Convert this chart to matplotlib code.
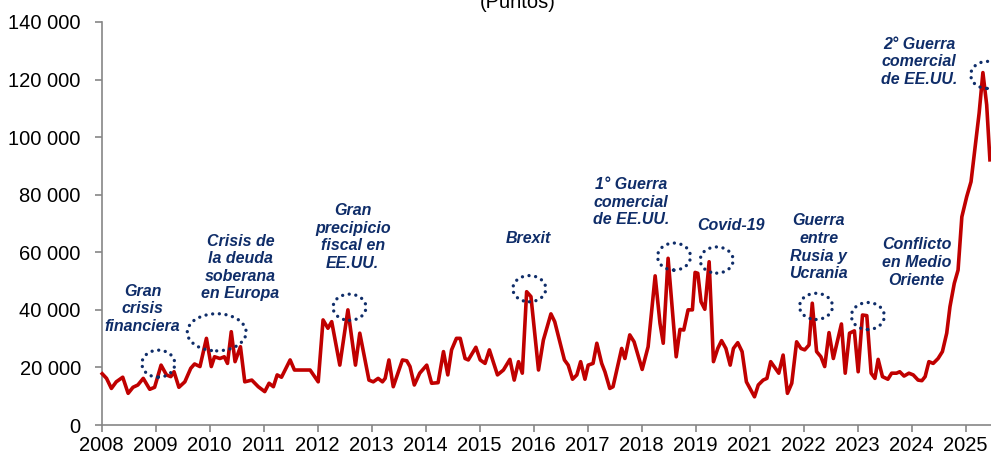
import matplotlib
matplotlib.use('Agg')
import matplotlib.pyplot as plt
from matplotlib.patches import Ellipse
from matplotlib.ticker import FuncFormatter

plt.rcParams['font.family'] = ['Liberation Sans', 'DejaVu Sans']

# -----------------------------------------------------------------------
# Datos (posición en el eje de años, índice en puntos)
# -----------------------------------------------------------------------
etiquetas_x = ['2008', '2009', '2010', '2011', '2012', '2013', '2014', '2015',
               '2016', '2017', '2018', '2019', '2021', '2022', '2023', '2024', '2025']

pos = [0.01, 0.09, 0.18, 0.27, 0.39, 0.49, 0.58, 0.67, 0.77, 0.89,
       0.98, 1.10, 1.20, 1.28, 1.34, 1.43, 1.54, 1.65, 1.72, 1.82,
       1.94, 2.03, 2.09, 2.19, 2.27, 2.33, 2.40, 2.47, 2.57, 2.65,
       2.78, 2.90, 3.02, 3.10, 3.18, 3.25, 3.33, 3.49, 3.57, 3.70,
       3.86, 4.01, 4.10, 4.19, 4.26, 4.41, 4.56, 4.70, 4.78, 4.95,
       5.03, 5.12, 5.20, 5.25, 5.32, 5.40, 5.57, 5.65, 5.71, 5.79,
       5.89, 6.02, 6.11, 6.23, 6.33, 6.41, 6.48, 6.57, 6.64, 6.73,
       6.79, 6.93, 7.01, 7.10, 7.18, 7.33, 7.44, 7.56, 7.64, 7.72,
       7.79, 7.87, 7.95, 8.09, 8.18, 8.32, 8.39, 8.57, 8.64, 8.72,
       8.80, 8.87, 8.95, 9.01, 9.10, 9.17, 9.26, 9.32, 9.41, 9.47,
       9.63, 9.69, 9.78, 9.86, 10.01, 10.12, 10.25, 10.34, 10.40, 10.49,
       10.64, 10.71, 10.78, 10.86, 10.94, 10.99, 11.04, 11.10, 11.17, 11.25,
       11.33, 11.41, 11.48, 11.56, 11.64, 11.70, 11.78, 11.86, 11.94, 12.09,
       12.16, 12.25, 12.32, 12.39, 12.54, 12.62, 12.70, 12.78, 12.87, 12.95,
       13.02, 13.10, 13.16, 13.24, 13.32, 13.39, 13.47, 13.55, 13.70, 13.77,
       13.85, 13.94, 14.01, 14.09, 14.17, 14.25, 14.32, 14.38, 14.46, 14.56,
       14.63, 14.72, 14.78, 14.86, 14.95, 15.03, 15.12, 15.19, 15.25, 15.32,
       15.40, 15.49, 15.57, 15.65, 15.71, 15.79, 15.86, 15.93, 16.02, 16.10,
       16.17, 16.25, 16.32, 16.39, 16.45]

valor = [17800, 16200, 12700, 15000, 16600, 11000, 13100, 13900, 16200, 12400,
         13100, 20800, 17400, 16800, 18500, 13100, 15000, 19700, 21200, 20300,
         30100, 20300, 23700, 23100, 23700, 21400, 32400, 22000, 27200, 15000,
         15600, 13300, 11600, 14500, 13300, 17400, 16600, 22600, 19100, 19100,
         19100, 15000, 36500, 33600, 35900, 20800, 40000, 20800, 31900, 15600,
         15000, 16200, 15000, 16200, 22600, 13300, 22600, 22300, 20300, 13900,
         18000, 20800, 14500, 14700, 25500, 17400, 26100, 30100, 30100, 23100,
         22600, 27000, 22600, 21400, 26100, 17400, 19100, 22800, 15600, 22000,
         18000, 46300, 44600, 19100, 29500, 38600, 35900, 22600, 20800, 15900,
         17400, 22000, 15900, 20800, 21400, 28400, 21400, 18500, 12700, 13300,
         26600, 23100, 31300, 28900, 19300, 27200, 51800, 35300, 28400, 57900,
         23700, 33200, 33000, 40000, 40000, 53000, 52700, 42800, 40200, 56700,
         22000, 26600, 29300, 26600, 20800, 26600, 28600, 25500, 15000, 9800,
         13900, 15600, 16200, 22000, 18000, 24300, 11000, 14500, 28900, 26600,
         26100, 27800, 42300, 25500, 23700, 20300, 32100, 23100, 35100, 18000,
         31900, 32700, 18500, 38200, 38000, 18000, 16200, 22800, 16800, 15900,
         18000, 18000, 18500, 17000, 18000, 17400, 15600, 15400, 16800, 22000,
         21400, 23100, 25500, 31900, 41100, 49200, 53800, 72300, 79300, 84500,
         95500, 108300, 122400, 111200, 92100]

# Eventos: texto y centro del bloque de texto (en unidades de datos)
eventos = [
    ("Gran\ncrisis\nfinanciera",                0.76, 40300),
    ("Crisis de\nla deuda\nsoberana\nen Europa", 2.57, 54700),
    ("Gran\nprecipicio\nfiscal en\nEE.UU.",     4.65, 65300),
    ("Brexit",                                   7.91, 64900),
    ("1° Guerra\ncomercial\nde EE.UU.",          9.80, 77400),
    ("Covid-19",                                 11.65, 69200),
    ("Guerra\nentre\nRusia y\nUcrania",          13.28, 61700),
    ("Conflicto\nen Medio\nOriente",             15.09, 56400),
    ("2° Guerra\ncomercial\nde EE.UU.",          15.14, 126100),
]

# Círculos punteados sobre cada pico (centro x, centro y, ancho, alto)
circulos = [
    (1.05, 21300, 0.61, 9400),
    (2.13, 32200, 1.09, 12900),
    (4.59, 40900, 0.61, 9100),
    (7.92, 47350, 0.61, 9100),
    (10.60, 58500, 0.61, 9400),
    (11.39, 57300, 0.61, 9100),
    (13.23, 41200, 0.61, 9100),
    (14.19, 37850, 0.61, 9400),
    (16.40, 121600, 0.61, 9400),
]

AZUL = '#0F2D69'
ROJO = '#C00000'
GRIS = '#868686'

fig = plt.figure(figsize=(9.91, 4.57), dpi=100)
ax = fig.add_axes([0.1026, 0.070, 0.8974, 0.882])

ax.plot(pos, valor, color=ROJO, lw=2.6, solid_joinstyle='round', clip_on=False, zorder=3)

for cx, cy, w, h in circulos:
    ax.add_patch(Ellipse((cx, cy), w, h, fill=False, edgecolor=AZUL, lw=2.4,
                         linestyle=(0, (0.01, 2.0)), capstyle='round', zorder=4))

for texto, tx, ty in eventos:
    ax.text(tx, ty, texto, ha='center', va='center', color=AZUL, fontsize=11.5,
            fontweight='bold', fontstyle='italic', linespacing=1.22, zorder=5)

ax.set_xlim(0, 16.47)
ax.set_ylim(0, 140000)
ax.set_xticks(range(len(etiquetas_x)))
ax.set_xticklabels(etiquetas_x)
ax.set_yticks(range(0, 140001, 20000))
ax.yaxis.set_major_formatter(FuncFormatter(lambda v, p: f"{v:,.0f}".replace(",", " ")))

for lado in ['top', 'right']:
    ax.spines[lado].set_visible(False)
for lado in ['left', 'bottom']:
    ax.spines[lado].set_color(GRIS)
    ax.spines[lado].set_linewidth(1.2)

ax.tick_params(axis='both', colors=GRIS, labelcolor='black', labelsize=14.5,
               length=5, width=1.2, direction='out')
ax.tick_params(axis='y', pad=10)
ax.tick_params(axis='x', pad=3)

# Título cortado en la parte superior (como en la imagen original)
fig.text(0.522, 1 - 8 / 457, "(Puntos)", ha='center', va='baseline', fontsize=14.5)

fig.savefig('out.png', dpi=100)
